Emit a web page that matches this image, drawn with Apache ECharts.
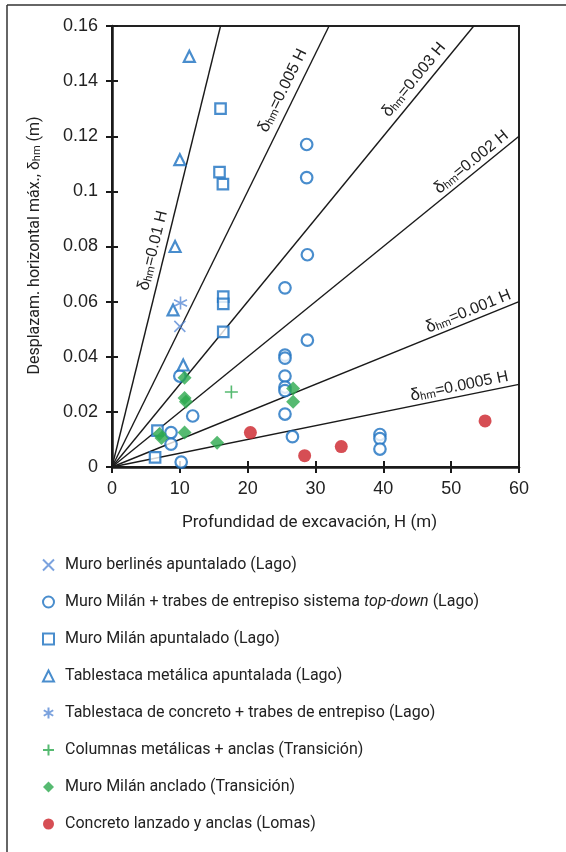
<!DOCTYPE html>
<html><head><meta charset="utf-8">
<script src="https://cdn.jsdelivr.net/npm/echarts@6/dist/echarts.min.js"></script>
<style>html,body{margin:0;padding:0;background:#fff}#c{width:566px;height:852px}</style>
</head><body><div id="c"></div>
<script>
// ---------- data ----------
const seriesNames = [
  'Muro berlinés apuntalado (Lago)',
  'Muro Milán + trabes de entrepiso sistema top-down (Lago)',
  'Muro Milán apuntalado (Lago)',
  'Tablestaca metálica apuntalada (Lago)',
  'Tablestaca de concreto + trabes de entrepiso (Lago)',
  'Columnas metálicas + anclas (Transición)',
  'Muro Milán anclado (Transición)',
  'Concreto lanzado y anclas (Lomas)'
];
const berlines = [[10.0, 0.051]];
const milanTopDown = [
  [28.7, 0.117], [28.7, 0.105], [28.8, 0.077], [25.5, 0.065], [28.8, 0.046],
  [25.5, 0.0406], [25.5, 0.0395], [25.5, 0.033], [25.5, 0.029], [25.5, 0.0277],
  [25.5, 0.0192], [26.6, 0.011], [11.9, 0.0185], [8.7, 0.0125], [8.7, 0.0083],
  [10.2, 0.0018], [10.0, 0.033], [39.5, 0.0118], [39.5, 0.0103], [39.5, 0.0065]
];
const milanApuntalado = [
  [16.0, 0.13], [15.85, 0.107], [16.35, 0.1026], [16.4, 0.0618], [16.4, 0.0592],
  [16.4, 0.049], [6.7, 0.0132], [6.35, 0.0035]
];
const tablestacaMetalica = [[11.4, 0.149], [10.0, 0.1115], [9.3, 0.08], [9.0, 0.057], [10.5, 0.037]];
const tablestacaConcreto = [[10.1, 0.0595]];
const columnasAnclas = [[17.6, 0.0272]];
const milanAnclado = [
  [10.7, 0.0324], [10.7, 0.025], [10.9, 0.0237], [10.7, 0.0125], [7.0, 0.012],
  [7.3, 0.0105], [15.5, 0.0088], [26.7, 0.0285], [26.7, 0.0237]
];
const concretoLanzado = [[20.4, 0.0125], [28.4, 0.0041], [33.8, 0.0074], [55.0, 0.0167]];

const refSlopes = [0.01, 0.005, 0.003, 0.002, 0.001, 0.0005];
const refLabels = ['=0.01 H', '=0.005 H', '=0.003 H', '=0.002 H', '=0.001 H', '=0.0005 H'];
const refLabelH = [7.75, 26.9, 45.9, 53.9, 53.1, 51.5];

const xTicks = [0, 10, 20, 30, 40, 50, 60];
const yTicks = ['0', '0.02', '0.04', '0.06', '0.08', '0.1', '0.12', '0.14', '0.16'];

// ---------- style ----------
const X_MIN = 0, X_MAX = 60, X_INT = 10;
const Y_MIN = 0, Y_MAX = 0.16, Y_INT = 0.02;
const NARROW = "Roboto,'Liberation Sans',sans-serif";
const REG = "'Liberation Sans','Arial',sans-serif";
const TXT = '#222';
const BLUE = '#1c70c0';
const LBLUE = '#5a8bd6';
const GREEN = '#2ca94d';
const RED = '#cc2229';
const refGap = [12, 13, 12, 10, 10, 10];

const chart = echarts.init(document.getElementById('c'), null, {renderer: 'canvas'});

function open(name, data, symbol, size) {
  return {name, type: 'scatter', data, symbol, symbolSize: size, z: 5,
    itemStyle: {color: '#fff', borderColor: BLUE, borderWidth: 2.2}};
}
function strokeSym(name, data, path, size, color, w) {
  return {name, type: 'scatter', data, symbol: path, symbolSize: size, z: 5,
    itemStyle: {color: 'rgba(0,0,0,0)', borderColor: color, borderWidth: w}};
}

const refSeries = refSlopes.map((k, i) => ({
  name: 'ref' + i, type: 'line', silent: true, z: 2, symbol: 'none',
  data: [[0, 0], [Math.min(X_MAX, Y_MAX / k), Math.min(Y_MAX, k * X_MAX)]],
  lineStyle: {color: '#1a1a1a', width: 1.4}
}));

const axisCommon = {min: X_MIN, max: X_MAX, interval: X_INT};
const option = {
  animation: false,
  grid: {left: 112, top: 26, right: 47, bottom: 385, show: true, borderColor: '#222', borderWidth: 2, backgroundColor: 'transparent'},
  xAxis: [
    Object.assign({type: 'value', position: 'bottom', splitLine: {show: false},
      axisLine: {show: true, lineStyle: {color: '#1a1a1a', width: 2.5}},
      axisTick: {show: true, inside: false, length: 6, lineStyle: {color: '#1a1a1a', width: 2}},
      axisLabel: {margin: 13, fontFamily: REG, fontSize: 18, color: TXT,
        formatter: v => String(xTicks[Math.round(v / X_INT)])},
      name: 'Profundidad de excavación, H (m)', nameLocation: 'middle', nameGap: 47,
      nameTextStyle: {fontFamily: NARROW, fontSize: 17, color: TXT, padding: [0, 12, 0, 0]}}, axisCommon),
    Object.assign({type: 'value', position: 'bottom', splitLine: {show: false},
      axisLine: {show: false}, axisLabel: {show: false},
      axisTick: {show: true, inside: true, length: 6, lineStyle: {color: '#1a1a1a', width: 2}}}, axisCommon)
  ],
  yAxis: [
    {type: 'value', min: Y_MIN, max: Y_MAX, interval: Y_INT, position: 'left', splitLine: {show: false},
      axisLine: {show: true, lineStyle: {color: '#1a1a1a', width: 2.5}},
      axisTick: {show: true, inside: false, length: 6, lineStyle: {color: '#1a1a1a', width: 2}},
      axisLabel: {margin: 14, fontFamily: REG, fontSize: 18, color: TXT,
        formatter: v => yTicks[Math.round(v / Y_INT)]},
      name: 'Desplazam. horizontal máx., {d|δ}{s|hm} (m)', nameLocation: 'middle', nameGap: 69,
      nameTextStyle: {fontFamily: NARROW, fontSize: 16, color: TXT, padding: [0, 0, 0, 2],
        rich: {d: {fontFamily: REG, fontSize: 16, color: TXT}, s: {fontFamily: NARROW, fontSize: 11, color: TXT, padding: [6, 0, 0, 0]}}}},
    {type: 'value', min: Y_MIN, max: Y_MAX, interval: Y_INT, position: 'left', splitLine: {show: false},
      axisLine: {show: false}, axisLabel: {show: false},
      axisTick: {show: true, inside: true, length: 6, lineStyle: {color: '#1a1a1a', width: 2}}}
  ],
  legend: {
    orient: 'vertical', left: 37, top: 549, itemWidth: 11, itemHeight: 11, itemGap: 15,
    selectedMode: false, data: seriesNames,
    textStyle: {fontFamily: NARROW, fontSize: 16, color: TXT, lineHeight: 22, padding: [0, 0, 0, 6],
      rich: {i: {fontFamily: NARROW, fontSize: 16, fontStyle: 'italic', color: TXT, lineHeight: 22}}},
    formatter: n => n.replace('top-down', '{i|top-down}')
  },
  series: refSeries.concat([
    strokeSym(seriesNames[0], berlines, 'path://M0,0L10,10M10,0L0,10', 11, LBLUE, 1.6),
    open(seriesNames[1], milanTopDown, 'circle', 11.5),
    open(seriesNames[2], milanApuntalado, 'rect', 10.5),
    open(seriesNames[3], tablestacaMetalica, 'triangle', 11),
    strokeSym(seriesNames[4], tablestacaConcreto, 'path://M5,0L5,10M0.7,2.5L9.3,7.5M0.7,7.5L9.3,2.5', 13, LBLUE, 1.6),
    strokeSym(seriesNames[5], columnasAnclas, 'path://M5,0L5,10M0,5L10,5', 13, GREEN, 1.6),
    {name: seriesNames[6], type: 'scatter', data: milanAnclado, symbol: 'diamond', symbolSize: 14, z: 6,
      itemStyle: {color: GREEN}},
    {name: seriesNames[7], type: 'scatter', data: concretoLanzado, symbol: 'circle', symbolSize: 13, z: 6,
      itemStyle: {color: RED}}
  ])
};
chart.setOption(option);

// labels for the reference lines, placed along each line through the chart's scales
const graphics = [
  {type: 'line', shape: {x1: 7, y1: 5, x2: 566, y2: 5}, style: {stroke: '#333', lineWidth: 1.5}},
  {type: 'line', shape: {x1: 7, y1: 5, x2: 7, y2: 852}, style: {stroke: '#333', lineWidth: 1.5}}
];
refSlopes.forEach((k, i) => {
  const p0 = chart.convertToPixel({gridIndex: 0}, [0, 0]);
  const p1 = chart.convertToPixel({gridIndex: 0}, [10, 10 * k]);
  const dx = p1[0] - p0[0], dy = p1[1] - p0[1];
  const len = Math.hypot(dx, dy);
  const nx = dy / len, ny = -dx / len;
  const a = chart.convertToPixel({gridIndex: 0}, [refLabelH[i], k * refLabelH[i]]);
  graphics.push({
    type: 'text', z: 10,
    x: a[0] + nx * refGap[i], y: a[1] + ny * refGap[i],
    rotation: Math.atan2(-dy, dx),
    style: {
      text: '{d|δ}{s|hm}{t|' + refLabels[i] + '}',
      align: 'center', verticalAlign: 'middle',
      rich: {
        d: {fontFamily: REG, fontSize: 17, fill: TXT},
        s: {fontFamily: NARROW, fontSize: 11, fill: TXT, padding: [6, 0, 0, 0]},
        t: {fontFamily: REG, fontSize: 16, fill: TXT}
      }
    }
  });
});
chart.setOption({graphic: graphics});
</script>
</body></html>
